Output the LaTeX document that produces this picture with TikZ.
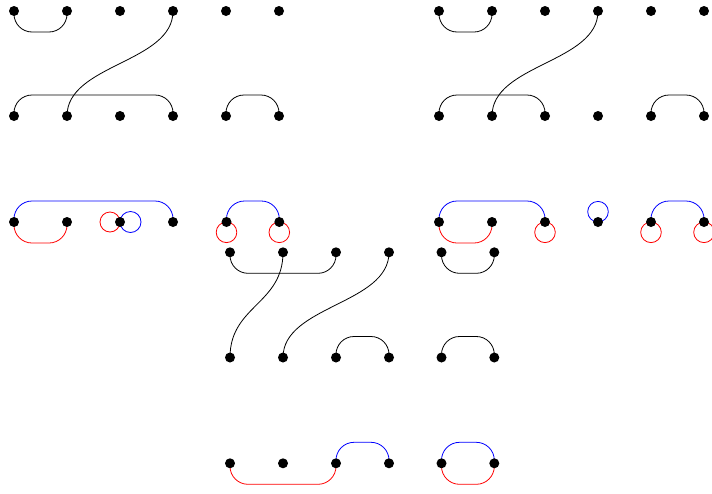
\documentclass[tikz,border=0pt]{standalone}
\usetikzlibrary{backgrounds}
\tikzset{
  dot/.style={circle,fill=black,inner sep=0pt,minimum size=10pt},
  strand/.style={line width=0.8pt},
  cupline/.style={strand,rounded corners=18pt,to path={-- ++(0,21) -| (\tikztotarget)}},
  capline/.style={strand,rounded corners=18pt,to path={-- ++(0,-21) -| (\tikztotarget)}},
  crossline/.style={strand,to path={.. controls +(0,52) and +(0,-52) .. (\tikztotarget)}},
  loopline/.style={strand}
}
\begin{document}
\begin{tikzpicture}[x=1pt,y=-1pt]
\useasboundingbox (0,0) rectangle (712,493);
% dots
\foreach \x [count=\i] in {14,67,120,173,226,279} {
  \node[dot] (At\i) at (\x,11) {};
  \node[dot] (Ab\i) at (\x,116) {};
}
\foreach \x [count=\i] in {439,492,545,598,651,704} {
  \node[dot] (Bt\i) at (\x,11) {};
  \node[dot] (Bb\i) at (\x,116) {};
  \node[dot] (D\i) at (\x,222) {};
}
\foreach \x [count=\i] in {14,67,120,173,226.5,279.3} {
  \node[dot] (C\i) at (\x,222) {};
}
\foreach \x [count=\i] in {230,283,336,389} {
  \node[dot] (Mt\i) at (\x,252.3) {};
  \node[dot] (Mb\i) at (\x,357.5) {};
  \node[dot] (F\i) at (\x,463.3) {};
}
\foreach \x [count=\i] in {441.5,494.3} {
  \node[dot] (Et\i) at (\x,252.3) {};
  \node[dot] (Eb\i) at (\x,357.5) {};
  \node[dot] (Ft\i) at (\x,463.3) {};
}
\begin{pgfonlayer}{background}
% top-left diagram
\draw[cupline] (At1.center) to (At2.center);
\draw[crossline] (At4.center) to (Ab2.center);
\draw[capline] (Ab1.center) to (Ab4.center);
\draw[capline] (Ab5.center) to (Ab6.center);
% top-right diagram
\draw[cupline] (Bt1.center) to (Bt2.center);
\draw[crossline] (Bt4.center) to (Bb2.center);
\draw[capline] (Bb1.center) to (Bb3.center);
\draw[capline] (Bb5.center) to (Bb6.center);
% row 3 left
\draw[capline,blue] (C1.center) to (C4.center);
\draw[cupline,red] (C1.center) to (C2.center);
\draw[loopline,red] (C3.center) ++(-10,0) circle[radius=10pt];
\draw[loopline,blue] (C3.center) ++(10.5,0) circle[radius=10.5pt];
\draw[capline,blue] (C5.center) to (C6.center);
\draw[loopline,red] (C5.center) ++(0,10.3) circle[radius=10.3pt];
\draw[loopline,red] (C6.center) ++(0,10.3) circle[radius=10.3pt];
% row 3 right
\draw[capline,blue] (D1.center) to (D3.center);
\draw[cupline,red] (D1.center) to (D2.center);
\draw[loopline,red] (D3.center) ++(0,10.3) circle[radius=10.3pt];
\draw[loopline,blue] (D4.center) ++(0,-10.3) circle[radius=10.3pt];
\draw[capline,blue] (D5.center) to (D6.center);
\draw[loopline,red] (D5.center) ++(0,10.3) circle[radius=10.3pt];
\draw[loopline,red] (D6.center) ++(0,10.3) circle[radius=10.3pt];
% middle diagram
\draw[cupline] (Mt1.center) to (Mt3.center);
\draw[crossline] (Mt2.center) to (Mb1.center);
\draw[crossline] (Mt4.center) to (Mb2.center);
\draw[capline] (Mb3.center) to (Mb4.center);
% small diagram
\draw[cupline] (Et1.center) to (Et2.center);
\draw[capline] (Eb1.center) to (Eb2.center);
% bottom row
\draw[cupline,red] (F1.center) to (F3.center);
\draw[capline,blue] (F3.center) to (F4.center);
\draw[capline,blue] (Ft1.center) to (Ft2.center);
\draw[cupline,red] (Ft1.center) to (Ft2.center);
\end{pgfonlayer}
\end{tikzpicture}
\end{document}
